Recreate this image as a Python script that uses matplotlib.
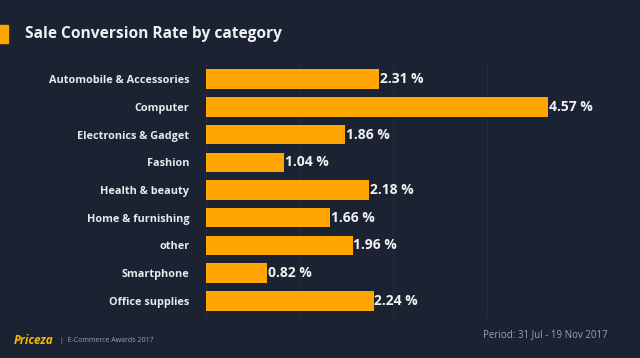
import matplotlib
matplotlib.use("Agg")
import matplotlib.pyplot as plt
from matplotlib.patches import Rectangle

categories = ["Automobile & Accessories", "Computer", "Electronics & Gadget", "Fashion",
              "Health & beauty", "Home & furnishing", "other", "Smartphone", "Office supplies"]
values = [2.31, 4.57, 1.86, 1.04, 2.18, 1.66, 1.96, 0.82, 2.24]
value_labels = ["2.31 %", "4.57 %", "1.86 %", "1.04 %", "2.18 %", "1.66 %", "1.96 %", "0.82 %", "2.24 %"]
grid_ticks = [0, 1.25, 2.5, 3.75, 5]

BG = "#1b2231"
ORANGE = "#FFA602"
W, H = 640, 358

plt.rcParams['font.family'] = ['Open Sans', 'DejaVu Sans']
fig = plt.figure(figsize=(W / 100, H / 100), dpi=100, facecolor=BG)

ax = fig.add_axes([206 / W, 1 - 318 / H, (580 - 206) / W, (318 - 62) / H])
ax.set_facecolor(BG)
ypos = list(range(len(categories)))
ax.barh(ypos, values, height=0.7, color=ORANGE, zorder=3)
ax.set_xlim(0, 5)
ax.set_ylim(len(categories) - 0.38, -0.62)
ax.set_xticks(grid_ticks)
ax.xaxis.grid(True, color="#232c3e", linewidth=1, zorder=0)
ax.tick_params(axis="x", length=0, labelbottom=False)
ax.set_yticks(ypos)
ax.set_yticklabels(categories, color="#e8eaee", fontsize=7.8, fontweight="bold")
ax.tick_params(axis="y", length=0, pad=12)
for s in ax.spines.values():
    s.set_visible(False)
for y, v, lab in zip(ypos, values, value_labels):
    ax.text(v + 0.01, y, lab, va="center", ha="left", color="#f2f2f2",
            fontsize=10, fontweight="bold", zorder=4)

# title
fig.patches.append(Rectangle((0, 1 - 43 / H), 8 / W, 18 / H, transform=fig.transFigure,
                             color=ORANGE, zorder=5))
fig.text(25 / W, 1 - 34 / H, "Sale Conversion Rate by category", color="#eef0f3",
         fontsize=11.2, fontweight="bold", va="center", ha="left")

# footer
fig.text(14 / W, 1 - 341 / H, "Priceza", color="#f5b800", fontsize=8.5, fontweight="bold",
         style="italic", va="center", ha="left")
fig.text(60 / W, 1 - 341 / H, "|  E-Commerce Awards 2017", color="#9aa2ae", fontsize=5,
         va="center", ha="left")
fig.text(608 / W, 1 - 335 / H, "Period: 31 Jul - 19 Nov 2017", color="#9aa3b0", fontsize=7,
         va="center", ha="right")

fig.savefig("out.png", dpi=100, facecolor=BG)
